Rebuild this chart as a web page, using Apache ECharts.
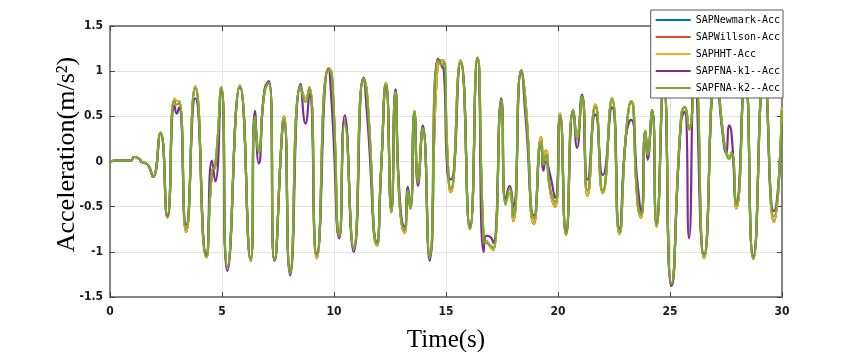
<!DOCTYPE html>
<html>
<head>
<meta charset="utf-8">
<script src="https://cdn.jsdelivr.net/npm/echarts@6/dist/echarts.min.js"></script>
<style>
html,body{margin:0;padding:0;background:#fff;}
#chart{width:863px;height:352px;}
</style>
</head>
<body>
<div id="chart"></div>
<script>
// Time samples (s) at peaks, valleys and kinks
const timeS = [0.0,0.3,0.6,0.9,1.1,1.3,1.45,1.6,1.75,1.92,2.25,2.56,2.88,2.98,3.08,3.4,3.81,4.3,4.55,4.7,4.97,5.24,5.8,6.28,6.47,6.64,6.9,7.1,7.34,7.7,7.77,8.04,8.51,8.73,8.9,9.23,9.75,9.9,10.24,10.48,10.88,11.32,11.47,11.92,12.1,12.32,12.56,12.74,12.92,13.15,13.3,13.41,13.59,13.75,13.96,14.27,14.64,14.82,14.91,15.06,15.21,15.65,16.07,16.4,16.68,16.8,17.0,17.11,17.47,17.66,17.84,18.0,18.36,18.55,18.93,19.25,19.35,19.45,19.65,19.87,20.09,20.36,20.68,20.85,21.07,21.32,21.67,22.0,22.41,22.74,23.03,23.26,23.56,23.71,23.9,24.0,24.2,24.4,24.72,25.06,25.5,25.65,25.85,26.1,26.52,27.05,27.35,27.5,27.65,27.75,27.96,28.35,28.72,29.2,29.64,30.0];

const hhtAcc = [0,0.01,0.01,0.01,0.05,0.03,-0.01,-0.02,-0.06,-0.17,0.32,-0.62,0.69,0.67,0.67,-0.78,0.83,-1.06,-0.12,-0.05,0.82,-1.16,0.84,-1.1,0.45,0.12,0.78,0.87,-1.09,0.4,0.5,-1.22,0.83,0.7,0.82,-1.07,1.03,0.98,-0.84,0.46,-0.95,0.92,0.76,-0.93,-0.1,0.87,-0.56,0.77,-0.43,-0.79,-0.35,-0.52,0.56,-0.2,0.36,-1.05,1.1,1.12,1.11,0.1,-0.34,1.12,-0.75,1.15,-0.86,-0.88,-0.95,-0.98,0.66,-0.45,-0.35,-0.66,1.0,0.67,-0.69,0.27,0.0,0.12,-0.32,-0.5,0.53,-0.81,0.57,0.3,0.72,-0.38,0.63,-0.35,0.7,-0.8,0.28,0.67,-0.48,-0.62,0.34,0.12,0.56,-0.72,0.87,-1.36,0.5,0.6,0.37,0.97,-1.07,1.02,0.35,0.12,0.05,0.1,-0.52,0.97,-1.08,0.97,-0.67,0.6];
const newmarkAcc = [0,0.01,0.01,0.01,0.05,0.03,-0.01,-0.02,-0.06,-0.17,0.32,-0.62,0.69,0.67,0.67,-0.78,0.83,-1.06,-0.12,-0.05,0.82,-1.16,0.84,-1.1,0.45,0.12,0.78,0.87,-1.09,0.4,0.5,-1.22,0.83,0.7,0.82,-1.07,1.03,0.98,-0.84,0.46,-0.95,0.92,0.76,-0.93,-0.1,0.87,-0.56,0.77,-0.43,-0.79,-0.35,-0.52,0.56,-0.2,0.36,-1.05,1.1,1.12,1.11,0.1,-0.34,1.12,-0.75,1.15,-0.86,-0.88,-0.95,-0.98,0.66,-0.45,-0.35,-0.66,1.0,0.67,-0.69,0.27,0.0,0.12,-0.32,-0.5,0.53,-0.81,0.57,0.3,0.72,-0.38,0.63,-0.35,0.7,-0.8,0.28,0.67,-0.48,-0.62,0.34,0.12,0.56,-0.72,0.87,-1.36,0.5,0.6,0.37,0.97,-1.07,1.02,0.35,0.12,0.05,0.1,-0.52,0.97,-1.08,0.97,-0.67,0.6];
const wilsonAcc = [0,0.01,0.01,0.01,0.05,0.03,-0.01,-0.02,-0.06,-0.17,0.32,-0.62,0.69,0.67,0.67,-0.78,0.83,-1.06,-0.12,-0.05,0.82,-1.16,0.84,-1.1,0.45,0.12,0.78,0.87,-1.09,0.4,0.5,-1.22,0.83,0.7,0.82,-1.07,1.03,0.98,-0.84,0.46,-0.95,0.92,0.76,-0.93,-0.1,0.87,-0.56,0.77,-0.43,-0.79,-0.35,-0.52,0.56,-0.2,0.36,-1.05,1.1,1.12,1.11,0.1,-0.34,1.12,-0.75,1.15,-0.86,-0.88,-0.95,-0.98,0.66,-0.45,-0.35,-0.66,1.0,0.67,-0.69,0.27,0.0,0.12,-0.32,-0.5,0.53,-0.81,0.57,0.3,0.72,-0.38,0.63,-0.35,0.7,-0.8,0.28,0.67,-0.48,-0.62,0.34,0.12,0.56,-0.72,0.87,-1.36,0.5,0.6,0.37,0.97,-1.07,1.02,0.35,0.12,0.05,0.1,-0.52,0.97,-1.08,0.97,-0.67,0.6];
const fnaK1Acc = [0,0.01,0.01,0.01,0.05,0.03,-0.01,-0.02,-0.06,-0.17,0.31,-0.6,0.62,0.53,0.6,-0.7,0.7,-1.03,0.01,-0.22,0.8,-1.21,0.82,-1.08,0.56,-0.02,0.8,0.89,-1.1,0.38,0.45,-1.26,0.86,0.42,0.75,-1.02,1.02,0.62,-0.85,0.51,-1.0,0.93,0.54,-0.89,-0.1,0.84,-0.5,0.8,-0.35,-0.72,-0.28,-0.5,0.52,-0.27,0.4,-1.1,1.14,1.05,1.0,-0.12,-0.2,1.09,-0.72,1.14,-1.0,-0.82,-0.84,-0.9,0.7,-0.42,-0.27,-0.5,1.01,0.5,-0.6,0.2,-0.1,0.0,-0.15,-0.4,0.5,-0.79,0.56,0.15,0.74,-0.2,0.52,-0.15,0.6,-0.74,0.27,0.46,-0.27,-0.55,0.33,0.02,0.57,-0.68,0.85,-1.38,0.45,0.55,-0.85,0.93,-1.03,0.98,0.3,0.1,0.4,0.3,-0.45,0.95,-1.05,0.93,-0.55,0.42];
const fnaK2Acc = [0,0.01,0.01,0.01,0.05,0.03,-0.01,-0.02,-0.06,-0.17,0.31,-0.59,0.67,0.63,0.65,-0.74,0.81,-1.05,-0.1,-0.05,0.81,-1.17,0.83,-1.09,0.5,0.1,0.78,0.87,-1.09,0.4,0.47,-1.24,0.84,0.66,0.81,-1.04,1.01,0.96,-0.83,0.42,-0.96,0.92,0.73,-0.91,-0.1,0.85,-0.56,0.77,-0.41,-0.76,-0.32,-0.52,0.55,-0.23,0.37,-1.06,1.12,1.07,1.1,0.03,-0.3,1.1,-0.74,1.14,-0.88,-0.9,-0.93,-0.96,0.68,-0.48,-0.3,-0.61,1.01,0.62,-0.63,0.22,-0.04,0.07,-0.3,-0.45,0.51,-0.8,0.57,0.25,0.72,-0.32,0.6,-0.32,0.68,-0.78,0.29,0.66,-0.46,-0.59,0.33,0.07,0.57,-0.7,0.85,-1.35,0.48,0.6,0.35,0.95,-1.04,1.0,0.33,0.1,0.03,0.1,-0.48,0.95,-1.07,0.95,-0.61,0.57];

const seriesNames = ['SAPNewmark-Acc','SAPWillson-Acc','SAPHHT-Acc','SAPFNA-k1--Acc','SAPFNA-k2--Acc'];
const seriesValues = [newmarkAcc, wilsonAcc, hhtAcc, fnaK1Acc, fnaK2Acc];
const seriesColors = ['#0072BD','#D95319','#EDB120','#7E2F8E','#77AC30'];

const xTitle = 'Time(s)';
const yTitle = 'Acceleration(m/s²)';

const chart = echarts.init(document.getElementById('chart'), null, {renderer:'canvas'});
const tickFont = {fontFamily:'"Liberation Sans Narrow","DejaVu Sans Condensed","Liberation Sans",sans-serif', fontWeight:'bold', fontSize:12, color:'#1a1a1a'};
const boxColor = '#858585';

const option = {
  animation:false,
  backgroundColor:'#fff',
  grid:{left:110, right:81, top:26, bottom:55, containLabel:false, outerBoundsMode:'none'},
  legend:{
    orient:'vertical', right:80, top:10,
    backgroundColor:'#fff', borderColor:'#5a5a5a', borderWidth:1,
    padding:[3,3,3,5], itemGap:3, itemWidth:35, itemHeight:2, icon:'rect',
    textStyle:{fontFamily:'"DejaVu Sans Mono","Liberation Mono",monospace', fontSize:10, lineHeight:14, color:'#000'},
    data:seriesNames, z:10
  },
  xAxis:[{
    type:'value', min:0, max:30, interval:5,
    name:xTitle, nameLocation:'middle', nameGap:31, nameMoveOverlap:false,
    nameTextStyle:{fontFamily:'"Liberation Serif","Times New Roman",serif', fontSize:25, color:'#000'},
    axisLine:{show:true, onZero:false, lineStyle:{color:boxColor, width:2}},
    axisTick:{show:true, inside:true, length:5, lineStyle:{color:'#444', width:1}},
    axisLabel:Object.assign({margin:9}, tickFont),
    splitLine:{show:true, lineStyle:{color:'#e3e3e3', width:1}}
  },{
    type:'value', min:0, max:30, interval:5, position:'top',
    axisLine:{show:true, onZero:false, lineStyle:{color:boxColor, width:2}},
    axisTick:{show:true, inside:true, length:5, lineStyle:{color:'#444', width:1}},
    axisLabel:{show:false}, splitLine:{show:false}
  }],
  yAxis:[{
    type:'value', min:-1.5, max:1.5, interval:0.5,
    name:yTitle, nameLocation:'middle', nameGap:30, nameRotate:90, nameMoveOverlap:false,
    nameTextStyle:{fontFamily:'"Liberation Serif","Times New Roman",serif', fontSize:26, color:'#000', padding:[0,0,0,14]},
    axisLine:{show:true, onZero:false, lineStyle:{color:boxColor, width:2}},
    axisTick:{show:true, inside:true, length:5, lineStyle:{color:'#444', width:1}},
    axisLabel:Object.assign({margin:7}, tickFont),
    splitLine:{show:true, lineStyle:{color:'#e3e3e3', width:1}}
  },{
    type:'value', min:-1.5, max:1.5, interval:0.5, position:'right',
    axisLine:{show:true, onZero:false, lineStyle:{color:boxColor, width:2}},
    axisTick:{show:true, inside:true, length:5, lineStyle:{color:'#444', width:1}},
    axisLabel:{show:false}, splitLine:{show:false}
  }],
  series: seriesNames.map((name, k) => ({
    name:name, type:'line', xAxisIndex:0, yAxisIndex:0,
    data: timeS.map((t, i) => [t, seriesValues[k][i]]),
    smooth:0.6, showSymbol:false, symbol:'none',
    lineStyle:{color:seriesColors[k], width:2.2},
    itemStyle:{color:seriesColors[k]},
    z:2+k
  }))
};
chart.setOption(option);
</script>
</body>
</html>
